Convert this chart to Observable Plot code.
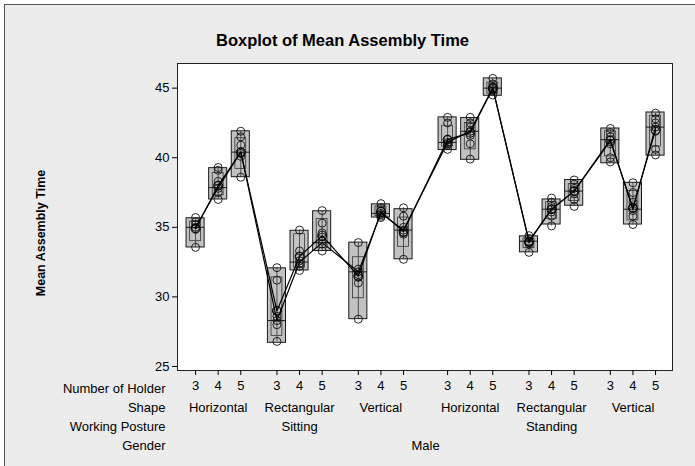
<!DOCTYPE html>
<html>
<head>
<meta charset="utf-8">
<script src="https://cdn.jsdelivr.net/npm/d3@7"></script>
<script src="https://cdn.jsdelivr.net/npm/@observablehq/plot@0.6"></script>
<style>
  html, body { margin: 0; padding: 0; background: #ffffff; width: 695px; height: 466px; overflow: hidden; }
  #back { position: absolute; left: 4px; top: 4px; width: 800px; height: 600px; background: #ececec;
          border-left: 1px solid #555; border-top: 1px solid #555; z-index: 0; }
  #chart { position: absolute; left: 0; top: 0; z-index: 1; }
  #chart svg { background: transparent; font-family: "Liberation Sans", Arial, sans-serif; }
</style>
</head>
<body>
<div id="back"></div>
<div id="chart"></div>
<script>
const title = "Boxplot of Mean Assembly Time";
const yLabel = "Mean Assembly Time";
const holders = [3, 4, 5];
const shapes = ["Horizontal", "Rectangular", "Vertical"];
const postures = ["Sitting", "Standing"];
const genders = ["Male"];
const rowLabels = ["Number of Holder", "Shape", "Working Posture", "Gender"];
const yTicks = [25, 30, 35, 40, 45];

// per group, order: Sitting(H3,H4,H5,R3,R4,R5,V3,V4,V5), Standing(...)
const q1 =      [33.55, 37.0, 38.6, 26.7, 31.9, 33.3, 28.4, 35.7, 32.7, 40.55, 39.85, 44.45, 33.2, 35.2, 36.55, 39.6, 35.2, 40.15];
const q3 =      [35.65, 39.25, 41.9, 32.05, 34.75, 36.15, 33.9, 36.65, 36.3, 42.9, 42.85, 45.7, 34.35, 37.0, 38.4, 42.1, 38.2, 43.25];
const medians = [35.0, 37.85, 40.4, 28.3, 32.5, 33.9, 31.8, 36.0, 34.8, 41.1, 41.9, 45.0, 34.0, 36.3, 37.6, 41.3, 36.3, 42.2];
const means =   [34.9, 38.0, 40.4, 29.0, 32.9, 34.4, 31.5, 36.1, 34.7, 41.3, 41.8, 45.0, 33.95, 36.3, 37.6, 41.2, 36.4, 42.0];
const ciLow =   [34.0, 37.3, 39.2, 27.2, 32.1, 33.5, 29.9, 35.8, 33.6, 40.8, 40.6, 44.6, 33.5, 35.6, 36.9, 40.1, 35.5, 40.8];
const ciHigh =  [35.4, 38.9, 41.4, 31.4, 34.5, 35.6, 32.85, 36.5, 35.7, 42.3, 42.5, 45.4, 34.2, 36.8, 38.1, 41.9, 37.6, 43.0];
const points = [
  [35.7, 35.4, 35.2, 35.0, 34.9, 33.56],
  [39.3, 39.1, 38.3, 38.0, 37.8, 37.5, 37.0],
  [41.9, 41.5, 40.9, 40.4, 40.3, 40.1, 38.6],
  [32.1, 31.2, 29.0, 28.6, 28.3, 28.0, 26.8],
  [34.8, 33.3, 32.9, 32.6, 32.4, 32.2, 31.9],
  [36.2, 35.3, 34.6, 34.3, 34.0, 33.8, 33.3],
  [33.9, 32.0, 31.8, 31.6, 31.4, 31.0, 28.4],
  [36.7, 36.4, 36.2, 36.0, 35.9, 35.8, 35.7],
  [36.4, 35.8, 35.0, 34.8, 34.6, 34.5, 32.7],
  [42.9, 42.5, 41.3, 41.1, 41.0, 40.9, 40.6],
  [42.9, 42.5, 42.2, 41.9, 41.6, 41.0, 39.9],
  [45.7, 45.3, 45.1, 45.0, 44.9, 44.8, 44.5],
  [34.4, 34.2, 34.0, 33.95, 33.9, 33.8, 33.2],
  [37.1, 36.8, 36.5, 36.3, 36.1, 35.8, 35.1],
  [38.4, 38.1, 37.8, 37.6, 37.4, 37.0, 36.5],
  [42.1, 41.8, 41.5, 41.3, 41.0, 40.0, 39.7],
  [38.2, 37.5, 36.8, 36.4, 36.2, 35.8, 35.2],
  [43.2, 42.8, 42.5, 42.2, 41.9, 40.6, 40.2]
];

// build groups with slot positions (gaps between shape and posture groups)
const groups = [];
postures.forEach((post, pi) => {
  shapes.forEach((shape, si) => {
    holders.forEach((h, hi) => {
      const k = groups.length;
      const p = hi + 3.6 * (pi * 3 + si) + 0.35 * pi;
      groups.push({k, p, holder: h, shape, posture: post, q1: q1[k], q3: q3[k], median: medians[k], mean: means[k],
        ciLow: ciLow[k], ciHigh: ciHigh[k], min: d3.min(points[k]), max: d3.max(points[k])});
    });
  });
});
const pts = groups.flatMap(g => points[g.k].map(v => ({p: g.p, v})));
const shapeLabels = [];
for (let i = 0; i < groups.length; i += 3) shapeLabels.push({p: groups[i + 1].p, text: groups[i].shape});
const postureLabels = postures.map((post, pi) => ({p: groups[pi * 9 + 4].p, text: post}));
const genderLabels = genders.map(g => ({p: (groups[0].p + groups[groups.length - 1].p) / 2, text: g}));
const holderMap = new Map(groups.map(g => [g.p, String(g.holder)]));

const W = 0.4, CW = 0.24;
const fs = 13;
const rowDy = [18, 37, 56, 75];
const plot = Plot.plot({
  width: 695,
  height: 466,
  marginLeft: 177,
  marginRight: 23,
  marginTop: 63,
  marginBottom: 96,
  style: {fontFamily: "'Liberation Sans', Arial, sans-serif", background: "transparent"},
  x: {domain: [-0.8, 21.1], axis: null},
  y: {domain: [24.71, 46.77], axis: null},
  marks: [
    Plot.frame({fill: "white", stroke: null}),
    Plot.rect(groups, {x1: d => d.p - W, x2: d => d.p + W, y1: "q1", y2: "q3", fill: "#c2c2c2", stroke: "#1a1a1a", strokeWidth: 1}),
    Plot.rect(groups, {x1: d => d.p - CW, x2: d => d.p + CW, y1: "ciLow", y2: "ciHigh", fill: "none", stroke: "#333", strokeWidth: 0.8}),
    Plot.ruleX(groups, {x: "p", y1: "min", y2: "max", stroke: "#333", strokeWidth: 0.8}),
    Plot.ruleY(groups, {y: "median", x1: d => d.p - W, x2: d => d.p + W, stroke: "#1a1a1a", strokeWidth: 1}),
    Plot.dot(pts, {x: "p", y: "v", r: 4, stroke: "#111", fill: "none", strokeWidth: 0.9}),
    Plot.line(groups, {x: "p", y: "median", stroke: "#000", strokeWidth: 1.2}),
    Plot.line(groups, {x: "p", y: "mean", stroke: "#000", strokeWidth: 1.2}),
    Plot.dot(groups, {x: "p", y: "mean", r: 4.5, stroke: "#000", fill: "none", strokeWidth: 1}),
    Plot.dot(groups, {x: "p", y: "mean", r: 3.2, symbol: "plus", fill: "#000", stroke: "none"}),
    Plot.frame({stroke: "#222", strokeWidth: 1}),
    Plot.axisY(yTicks, {tickSize: 5, tickPadding: 3, fontSize: 13, label: null, color: "#000"}),
    Plot.axisX(groups.map(g => g.p), {tickSize: 5, tickPadding: 5, fontSize: fs, label: null, tickFormat: d => holderMap.get(d)}),
    Plot.text(shapeLabels, {x: "p", text: "text", frameAnchor: "bottom", dy: rowDy[1], fontSize: fs, lineAnchor: "middle"}),
    Plot.text(postureLabels, {x: "p", text: "text", frameAnchor: "bottom", dy: rowDy[2], fontSize: fs, lineAnchor: "middle"}),
    Plot.text(genderLabels, {x: "p", text: "text", frameAnchor: "bottom", dy: rowDy[3], fontSize: fs, lineAnchor: "middle"}),
    ...rowLabels.map((lab, i) => Plot.text([lab], {text: d => d, frameAnchor: "bottom-left", dx: -12, dy: rowDy[i], fontSize: fs, textAnchor: "end", lineAnchor: "middle"})),
    Plot.text([title], {text: d => d, frameAnchor: "top-left", dx: 165, dy: -23, fontSize: 16.5, fontWeight: "bold", textAnchor: "middle", lineAnchor: "middle"}),
    Plot.text([yLabel], {text: d => d, frameAnchor: "left", dx: -137, dy: 16, rotate: -90, fontSize: 12.5, fontWeight: "bold", textAnchor: "middle", lineAnchor: "middle"})
  ]
});
document.getElementById("chart").appendChild(plot);
</script>
</body>
</html>
